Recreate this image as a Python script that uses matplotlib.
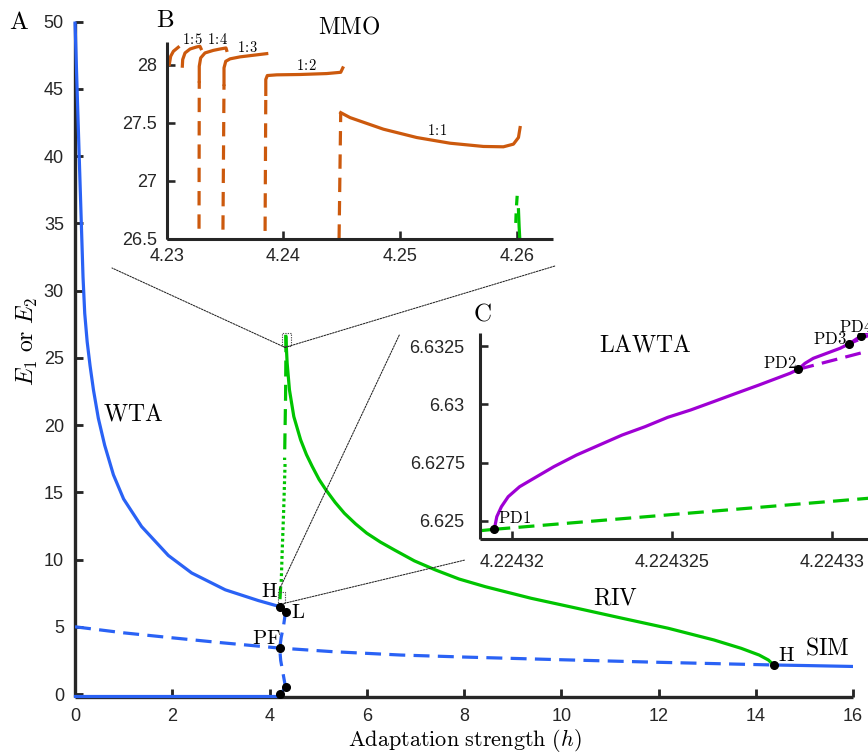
import matplotlib
matplotlib.use("Agg")
import matplotlib.pyplot as plt
from matplotlib.patches import Rectangle, ConnectionPatch

plt.rcParams['mathtext.fontset'] = 'cm'
plt.rcParams['font.family'] = ['Liberation Sans', 'DejaVu Sans']

BLUE = '#2A62F5'
GREEN = '#00C400'
ORANGE = '#CC590D'
PURPLE = '#9F00D4'
AXC = '#262626'

# ---------------- main diagram: E vs adaptation strength h ----------------
wta_h = [0.0, 0.03, 0.06, 0.095, 0.13, 0.165, 0.20, 0.25, 0.31, 0.38, 0.48, 0.61,
         0.79, 1.0, 1.37, 1.92, 2.4, 3.09, 3.77, 4.21]
wta_E = [50.0, 46.5, 43.0, 39.0, 35.0, 31.0, 28.3, 26.2, 24.4, 22.6, 20.5, 18.5,
         16.3, 14.5, 12.45, 10.3, 9.0, 7.75, 6.95, 6.5]

low_h = [0.0, 4.22]
low_E = [-0.12, -0.12]
low_link_h = [4.22, 4.33]
low_link_E = [-0.02, 0.5]

sym_h = [0.0, 1.0, 2.0, 3.0, 4.2, 5.3, 6.7, 8.0, 10.0, 12.0, 14.37]
sym_E = [5.0, 4.55, 4.18, 3.82, 3.42, 3.15, 2.9, 2.75, 2.55, 2.36, 2.16]

sim_h = [14.37, 15.0, 16.0]
sim_E = [2.16, 2.12, 2.05]

pf_h = [4.33, 4.29, 4.24, 4.21, 4.23, 4.28, 4.33]
pf_E = [6.12, 5.1, 4.2, 3.4, 2.5, 1.5, 0.5]

riv_h = [4.335, 4.363, 4.41, 4.50, 4.64, 4.76, 4.88, 5.02, 5.16, 5.35, 5.54, 5.77,
         6.00, 6.28, 6.57, 6.98, 7.41, 7.9, 8.44, 9.38, 10.32, 11.26, 12.20,
         13.14, 13.70, 14.07, 14.26, 14.37]
riv_E = [26.59, 24.6, 22.62, 20.63, 18.9, 17.8, 16.91, 15.95, 15.18, 14.25, 13.44,
         12.65, 11.96, 11.3, 10.71, 9.9, 9.23, 8.55, 7.98, 7.12, 6.38, 5.63, 4.89,
         4.02, 3.40, 2.90, 2.53, 2.16]

unst_hi_h = [4.34, 4.33, 4.31]
unst_hi_E = [26.6, 22.0, 17.4]
unst_dot_h = [4.32, 4.29, 4.26, 4.24]
unst_dot_E = [17.1, 13.5, 10.5, 8.2]
unst_lo_h = [4.23, 4.215, 4.21]
unst_lo_E = [8.0, 7.0, 6.5]

pts_h = [4.21, 4.33, 4.21, 4.22, 4.33, 14.37]
pts_E = [6.5, 6.12, 3.4, -0.02, 0.5, 2.16]

main_xticks = [0, 2, 4, 6, 8, 10, 12, 14, 16]
main_yticks = [0, 5, 10, 15, 20, 25, 30, 35, 40, 45, 50]

# ---------------- inset B: mixed-mode oscillation branches ----------------
mmo_tip_h = [4.23022, 4.23034, 4.23057, 4.23099]
mmo_tip_E = [28.003, 28.074, 28.117, 28.152]

mmo15_h = [4.23134, 4.23137, 4.23157, 4.23200, 4.23257, 4.23285, 4.23294]
mmo15_E = [27.989, 28.046, 28.103, 28.137, 28.155, 28.160, 28.140]

mmo14_dash_h = [4.23277, 4.23279]
mmo14_dash_E = [26.586, 27.859]
mmo14_h = [4.23279, 4.23279, 4.23291, 4.23328, 4.23399, 4.23457, 4.23508, 4.23514]
mmo14_E = [27.859, 27.988, 28.060, 28.103, 28.125, 28.137, 28.146, 28.125]

mmo13_dash_h = [4.23482, 4.23491]
mmo13_dash_E = [26.578, 27.831]
mmo13_h = [4.23491, 4.23491, 4.23506, 4.23543, 4.23628, 4.23742, 4.23857]
mmo13_E = [27.831, 27.974, 28.031, 28.052, 28.069, 28.083, 28.097]

mmo12_dash_h = [4.23843, 4.23849]
mmo12_dash_E = [26.567, 27.745]
mmo12_h = [4.23849, 4.23849, 4.23862, 4.23943, 4.24143, 4.24371, 4.24491, 4.24509]
mmo12_E = [27.745, 27.874, 27.908, 27.914, 27.917, 27.925, 27.936, 27.974]

mmo11_dash_h = [4.24477, 4.24491]
mmo11_dash_E = [26.50, 27.588]
mmo11_h = [4.24491, 4.24571, 4.24857, 4.25143, 4.25428, 4.25714, 4.25885,
           4.25971, 4.26014, 4.26028]
mmo11_E = [27.588, 27.545, 27.445, 27.373, 27.324, 27.296, 27.293,
           27.316, 27.373, 27.459]

b_green_dash_h = [4.26003, 4.25995, 4.25990]
b_green_dash_E = [26.87, 26.75, 26.60]
b_green_h = [4.26014, 4.26020, 4.26028]
b_green_E = [26.75, 26.60, 26.45]

b_xticks = [4.23, 4.24, 4.25, 4.26]
b_xlabels = ['4.23', '4.24', '4.25', '4.26']
b_yticks = [26.5, 27.0, 27.5, 28.0]
b_ylabels = ['26.5', '27', '27.5', '28']

mmo_labels = [('1', '5'), ('1', '4'), ('1', '3'), ('1', '2'), ('1', '1')]
mmo_label_h = [4.23224, 4.23438, 4.23695, 4.24200, 4.25314]
mmo_label_E = [28.216, 28.216, 28.152, 27.994, 27.43]

# ---------------- inset C: period-doubling cascade (LAWTA) ----------------
c_green_solid_h = [4.2243190112, 4.2243194573]
c_green_solid_E = [6.624570, 6.624631]
c_green_dash_h = [4.2243194573, 4.224331488]
c_green_dash_E = [6.624631, 6.626005]

pd_main_h = [4.2243194573, 4.2243195352, 4.2243196787, 4.2243198908, 4.2243202464,
             4.2243206020, 4.2243213132, 4.2243220244, 4.2243227355, 4.2243234467,
             4.2243241579, 4.2243248691, 4.2243255803, 4.2243262914, 4.2243270026,
             4.2243277138, 4.2243286807, 4.2243289396]
pd_main_E = [6.624631, 6.625172, 6.625601, 6.626031, 6.626460,
             6.626748, 6.627320, 6.627822, 6.628252, 6.628681,
             6.629038, 6.629442, 6.629755, 6.630112, 6.630473,
             6.630829, 6.631332, 6.631503]

pd2_h = [4.2243289396, 4.2243291486, 4.2243294075, 4.2243298255, 4.2243302403,
         4.2243305304]
pd2_E = [6.631503, 6.631761, 6.631976, 6.632191, 6.632405, 6.632603]
pd3_h = [4.2243305304, 4.2243309047, 4.2243313321]
pd3_E = [6.632603, 6.632947, 6.633277]

pd2_dash_h = [4.2243289396, 4.2243314881]
pd2_dash_E = [6.631503, 6.632418]
pd3_dash_h = [4.2243305304, 4.2243314881]
pd3_dash_E = [6.632603, 6.633170]

pd_pts_h = [4.2243194573, 4.2243289396, 4.2243305304, 4.2243309047]
pd_pts_E = [6.624631, 6.631503, 6.632603, 6.632947]
pd_names = ['PD1', 'PD2', 'PD3', 'PD4']
pd_name_h = [4.2243201029, 4.2243283590, 4.2243299285, 4.2243307310]
pd_name_E = [6.625107, 6.631765, 6.632796, 6.633342]

c_xticks = [4.22432, 4.224325, 4.22433]
c_xlabels = ['4.22432', '4.224325', '4.22433']
c_yticks = [6.625, 6.6275, 6.63, 6.6325]
c_ylabels = ['6.625', '6.6275', '6.63', '6.6325']


def rm(s):
    return r'$\mathrm{' + s + '}$'


def style(ax, lw=2.2, pad=7):
    for s in ('top', 'right'):
        ax.spines[s].set_visible(False)
    for s in ('left', 'bottom'):
        ax.spines[s].set_linewidth(lw)
        ax.spines[s].set_color(AXC)
        ax.spines[s].set_capstyle('butt')
    ax.tick_params(direction='in', length=6, width=lw * 0.85, colors=AXC,
                   labelcolor=AXC, labelsize=13, pad=pad)


LW = 2.3
DASH = (5, 2.6)

fig = plt.figure(figsize=(8.68, 7.53), dpi=100)
W, H = 868.0, 753.0

# ---------------- panel A ----------------
ax = fig.add_axes([75 / W, 1 - 697 / H, 778 / W, 675.5 / H])
style(ax, lw=2.4, pad=8)
ax.set_xlim(0, 16)
ax.set_ylim(-0.22, 50)
ax.set_xticks(main_xticks)
ax.set_yticks(main_yticks)

ax.plot(wta_h, wta_E, color=BLUE, lw=LW, zorder=3, clip_on=False,
        solid_capstyle='butt', solid_joinstyle='round')
ax.plot(low_h, low_E, color=BLUE, lw=LW, zorder=3, clip_on=False)
ax.plot(low_link_h, low_link_E, color=BLUE, lw=LW, zorder=3, clip_on=False)
ax.plot(sym_h, sym_E, color=BLUE, lw=LW, dashes=DASH, zorder=3)
ax.plot(sim_h, sim_E, color=BLUE, lw=LW, zorder=3)
ax.plot(pf_h, pf_E, color=BLUE, lw=LW, dashes=(4, 2.6), zorder=3)

ax.plot(riv_h, riv_E, color=GREEN, lw=LW, zorder=3, solid_joinstyle='round')
ax.plot(unst_hi_h, unst_hi_E, color=GREEN, lw=LW, dashes=DASH, zorder=3)
ax.plot(unst_dot_h, unst_dot_E, color=GREEN, lw=LW, dashes=(0.9, 0.9), zorder=3)
ax.plot(unst_lo_h, unst_lo_E, color=GREEN, lw=LW, dashes=(4, 2.0), zorder=3)

ax.plot(pts_h, pts_E, 'o', color='black', ms=5.5, zorder=6, clip_on=False)

# zoom-window markers
ax.add_patch(Rectangle((4.25, 25.87), 0.19, 1.0, fill=False, ec='#555555',
                       lw=0.8, ls=(0, (1.2, 1.0)), zorder=4))
ax.add_patch(Rectangle((4.17, 6.74), 0.14, 0.87, fill=False, ec='#555555',
                       lw=0.8, ls=(0, (1.2, 1.0)), zorder=4))

tk = dict(ha='center', va='center', color='black')
ax.text(1.20, 20.78, rm('WTA'), fontsize=17, **tk)
ax.text(11.12, 7.14, rm('RIV'), fontsize=17, **tk)
ax.text(15.47, 3.42, rm('SIM'), fontsize=17, **tk)
ax.text(14.64, 2.90, rm('H'), fontsize=15, **tk)
ax.text(3.99, 7.59, rm('H'), fontsize=15, **tk)
ax.text(4.59, 6.03, rm('L'), fontsize=15, **tk)
ax.text(3.93, 4.10, rm('PF'), fontsize=15, **tk)

ax.set_xlabel(r'$\mathrm{Adaptation\ strength}\ (h)$', fontsize=16)
ax.xaxis.label.set_va('center')
ax.xaxis.set_label_coords(0.501, -0.0637)
ax.set_ylabel(r'$E_1\ \mathrm{or}\ E_2$', fontsize=17)
ax.yaxis.label.set_va('center')
ax.yaxis.set_label_coords(-0.0617, 0.526)

# ---------------- panel B ----------------
axB = fig.add_axes([166.7 / W, 1 - 238.7 / H, 386.3 / W, 197 / H])
style(axB, lw=2.2, pad=7)
axB.set_xlim(4.23, 4.2631)
axB.set_ylim(26.5, 28.2)
axB.set_xticks(b_xticks)
axB.set_xticklabels(b_xlabels)
axB.set_yticks(b_yticks)
axB.set_yticklabels(b_ylabels)

for hh, ee in [(mmo_tip_h, mmo_tip_E), (mmo15_h, mmo15_E), (mmo14_h, mmo14_E),
               (mmo13_h, mmo13_E), (mmo12_h, mmo12_E), (mmo11_h, mmo11_E)]:
    axB.plot(hh, ee, color=ORANGE, lw=LW, clip_on=False, solid_joinstyle='round')
for hh, ee in [(mmo14_dash_h, mmo14_dash_E), (mmo13_dash_h, mmo13_dash_E),
               (mmo12_dash_h, mmo12_dash_E), (mmo11_dash_h, mmo11_dash_E)]:
    axB.plot(hh, ee, color=ORANGE, lw=LW, dashes=(4.5, 2.8))
axB.plot(b_green_dash_h, b_green_dash_E, color=GREEN, lw=LW, dashes=(3, 2.5))
axB.plot(b_green_h, b_green_E, color=GREEN, lw=LW)

for (p, q), hh, ee in zip(mmo_labels, mmo_label_h, mmo_label_E):
    axB.text(hh, ee, r'$\mathrm{' + p + r'}\!:\!\mathrm{' + q + '}$',
             fontsize=10.5, ha='center', va='center', clip_on=False)
axB.text(4.24564, 28.32, rm('MMO'), fontsize=17, ha='center', va='center',
         clip_on=False)

# ---------------- panel C ----------------
axC = fig.add_axes([480 / W, 1 - 539 / H, 400 / W, 206 / H])
style(axC, lw=2.2, pad=11)
axC.set_xlim(4.2243190112, 4.224331488)
axC.set_ylim(6.624214, 6.633063)
axC.set_xticks(c_xticks)
axC.set_xticklabels(c_xlabels)
axC.set_yticks(c_yticks)
axC.set_yticklabels(c_ylabels)

axC.plot(c_green_solid_h, c_green_solid_E, color=GREEN, lw=LW)
axC.plot(c_green_dash_h, c_green_dash_E, color=GREEN, lw=LW, dashes=DASH)
axC.plot(pd_main_h, pd_main_E, color=PURPLE, lw=LW, solid_joinstyle='round')
axC.plot(pd2_h, pd2_E, color=PURPLE, lw=LW, solid_joinstyle='round')
axC.plot(pd3_h, pd3_E, color=PURPLE, lw=LW)
axC.plot(pd2_dash_h, pd2_dash_E, color=PURPLE, lw=LW, dashes=DASH)
axC.plot(pd3_dash_h, pd3_dash_E, color=PURPLE, lw=LW, dashes=(3, 2.5))
axC.plot(pd_pts_h, pd_pts_E, 'o', color='black', ms=5.5, zorder=6)
for lab, hh, ee in zip(pd_names, pd_name_h, pd_name_E):
    axC.text(hh, ee, rm(lab), fontsize=12, ha='center', va='center',
             clip_on=False)
axC.text(4.2243241579, 6.632513, rm('LAWTA'), fontsize=17, ha='center',
         va='center')

# ---------------- connector lines ----------------
con_style = dict(color='#222222', lw=0.75, ls=(0, (1.6, 1.2)), zorder=1)
for xyB, axis in [((-0.1416, -0.1487), axB), ((1.005, -0.1386), axB)]:
    c = ConnectionPatch(xyA=(4.32, 25.77), coordsA='data', axesA=ax,
                        xyB=xyB, coordsB='axes fraction', axesB=axis,
                        **con_style)
    fig.add_artist(c)
for xyA, xyB in [((4.20, 7.75), (-0.2018, 0.990)), ((4.30, 6.74), (-0.0375, -0.102))]:
    c = ConnectionPatch(xyA=xyA, coordsA='data', axesA=ax,
                        xyB=xyB, coordsB='axes fraction', axesB=axC,
                        **con_style)
    fig.add_artist(c)

# panel letters
fig.text(19 / W, 1 - 22 / H, rm('A'), fontsize=18, ha='center', va='center')
fig.text(165 / W, 1 - 20 / H, rm('B'), fontsize=18, ha='center', va='center')
fig.text(482 / W, 1 - 313 / H, rm('C'), fontsize=18, ha='center', va='center')

fig.savefig('out.png', dpi=100)
